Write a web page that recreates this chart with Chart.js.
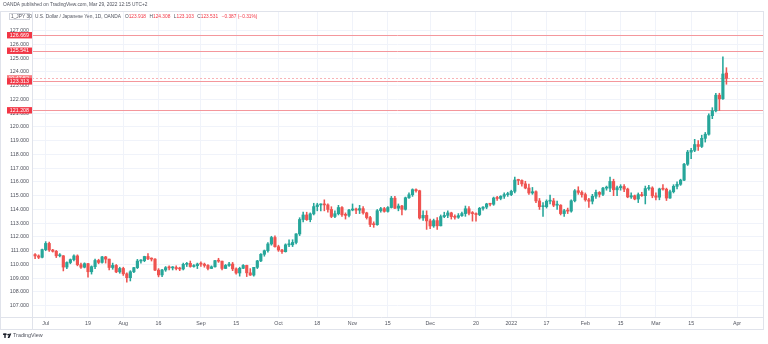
<!DOCTYPE html>
<html>
<head>
<meta charset="utf-8">
<script src="https://cdn.jsdelivr.net/npm/chart.js@4.4.1/dist/chart.umd.min.js"></script>
<style>
  html, body { margin: 0; padding: 0; background: #ffffff; }
  #wrap { width: 768px; height: 344px; position: relative; }
</style>
</head>
<body>
<div id="wrap"><canvas id="c" width="768" height="344"></canvas></div>
<script>
// USD/JPY daily candles (OANDA), late June 2021 – 29 March 2022
const tradingDays = [
  "2021-06-28","2021-06-29","2021-06-30",
  "2021-07-01","2021-07-02","2021-07-05","2021-07-06","2021-07-07","2021-07-08","2021-07-09","2021-07-12","2021-07-13","2021-07-14","2021-07-15","2021-07-16","2021-07-19","2021-07-20","2021-07-21","2021-07-22","2021-07-23","2021-07-26","2021-07-27","2021-07-28","2021-07-29","2021-07-30",
  "2021-08-02","2021-08-03","2021-08-04","2021-08-05","2021-08-06","2021-08-09","2021-08-10","2021-08-11","2021-08-12","2021-08-13","2021-08-16","2021-08-17","2021-08-18","2021-08-19","2021-08-20","2021-08-23","2021-08-24","2021-08-25","2021-08-26","2021-08-27","2021-08-30","2021-08-31",
  "2021-09-01","2021-09-02","2021-09-03","2021-09-06","2021-09-07","2021-09-08","2021-09-09","2021-09-10","2021-09-13","2021-09-14","2021-09-15","2021-09-16","2021-09-17","2021-09-20","2021-09-21","2021-09-22","2021-09-23","2021-09-24","2021-09-27","2021-09-28","2021-09-29","2021-09-30",
  "2021-10-01","2021-10-04","2021-10-05","2021-10-06","2021-10-07","2021-10-08","2021-10-11","2021-10-12","2021-10-13","2021-10-14","2021-10-15","2021-10-18","2021-10-19","2021-10-20","2021-10-21","2021-10-22","2021-10-25","2021-10-26","2021-10-27","2021-10-28","2021-10-29",
  "2021-11-01","2021-11-02","2021-11-03","2021-11-04","2021-11-05","2021-11-08","2021-11-09","2021-11-10","2021-11-11","2021-11-12","2021-11-15","2021-11-16","2021-11-17","2021-11-18","2021-11-19","2021-11-22","2021-11-23","2021-11-24","2021-11-25","2021-11-26","2021-11-29","2021-11-30",
  "2021-12-01","2021-12-02","2021-12-03","2021-12-06","2021-12-07","2021-12-08","2021-12-09","2021-12-10","2021-12-13","2021-12-14","2021-12-15","2021-12-16","2021-12-17","2021-12-20","2021-12-21","2021-12-22","2021-12-23","2021-12-24","2021-12-27","2021-12-28","2021-12-29","2021-12-30","2021-12-31",
  "2022-01-03","2022-01-04","2022-01-05","2022-01-06","2022-01-07","2022-01-10","2022-01-11","2022-01-12","2022-01-13","2022-01-14","2022-01-17","2022-01-18","2022-01-19","2022-01-20","2022-01-21","2022-01-24","2022-01-25","2022-01-26","2022-01-27","2022-01-28","2022-01-31",
  "2022-02-01","2022-02-02","2022-02-03","2022-02-04","2022-02-07","2022-02-08","2022-02-09","2022-02-10","2022-02-11","2022-02-14","2022-02-15","2022-02-16","2022-02-17","2022-02-18","2022-02-21","2022-02-22","2022-02-23","2022-02-24","2022-02-25","2022-02-28",
  "2022-03-01","2022-03-02","2022-03-03","2022-03-04","2022-03-07","2022-03-08","2022-03-09","2022-03-10","2022-03-11","2022-03-14","2022-03-15","2022-03-16","2022-03-17","2022-03-18","2022-03-21","2022-03-22","2022-03-23","2022-03-24","2022-03-25","2022-03-28","2022-03-29"
];
// empty sessions to the right of the last candle
const futureDays = ["2022-03-30","2022-03-31","2022-04-01","2022-04-04","2022-04-05","2022-04-06","2022-04-07","2022-04-08","2022-04-11","2022-04-12"];

const opens = [
  110.72,110.62,110.52,
  111.08,111.53,111.05,110.96,110.63,110.63,109.81,110.14,110.35,110.62,109.98,109.80,110.06,109.47,109.84,110.29,110.15,110.55,110.39,109.78,109.93,109.46,
  109.71,109.32,109.04,109.47,109.77,110.25,110.28,110.58,110.41,110.39,109.59,109.24,109.60,109.77,109.75,109.78,109.70,109.67,110.01,110.08,109.85,109.91,
  110.03,110.02,109.93,109.71,109.83,110.28,110.24,109.71,109.93,110.03,109.68,109.38,109.72,109.93,109.39,109.23,109.79,110.26,110.74,111.00,111.49,111.96,
  111.29,111.05,110.93,111.43,111.43,111.60,112.22,113.27,113.60,113.26,113.68,114.21,114.33,114.35,114.33,114.00,113.49,113.69,114.14,113.61,113.57,
  113.96,114.03,113.95,114.06,113.75,113.41,112.91,112.89,113.91,114.06,113.86,114.14,114.82,114.09,114.25,114.01,114.85,115.07,115.44,115.36,113.38,113.57,
  113.17,112.80,113.19,112.81,113.48,113.57,113.75,113.48,113.43,113.55,113.70,114.05,113.72,113.70,113.63,114.08,114.17,114.40,114.38,114.83,114.80,114.96,115.08,
  115.08,115.32,116.14,116.11,115.86,115.56,115.20,115.29,114.62,114.20,114.20,114.60,114.62,114.31,114.31,113.70,113.91,113.88,114.63,115.36,115.24,
  115.08,114.70,114.60,114.96,115.24,115.10,115.55,115.55,116.04,115.43,115.58,115.67,115.48,114.91,115.00,114.76,115.08,115.00,115.52,115.56,
  114.99,114.89,115.49,115.47,114.83,115.29,115.68,115.83,116.13,117.29,118.17,118.30,118.72,118.58,119.17,119.47,120.82,121.17,122.31,122.05,123.918
];
const highs = [
  110.80,110.70,111.12,
  111.66,111.62,111.10,111.02,110.80,110.65,110.20,110.40,110.70,110.70,110.10,110.12,110.08,109.90,110.40,110.38,110.60,110.59,110.40,110.10,110.00,109.80,
  109.80,109.40,109.55,109.80,110.37,110.35,110.60,110.80,110.48,110.42,109.70,109.65,109.85,109.90,109.85,109.90,109.80,110.10,110.15,110.25,110.00,110.10,
  110.20,110.10,110.00,109.90,110.30,110.45,110.25,110.00,110.15,110.15,109.75,109.80,110.00,109.95,109.70,109.80,110.30,110.80,111.05,111.60,112.05,112.08,
  111.40,111.10,111.50,111.80,111.80,112.25,113.40,113.80,113.80,113.75,114.45,114.45,114.40,114.70,114.40,114.20,113.90,114.30,114.20,113.75,114.00,
  114.40,114.10,114.30,114.20,113.80,113.50,113.10,114.00,114.15,114.15,114.20,114.95,114.95,114.40,114.30,114.90,115.20,115.50,115.50,115.40,113.90,113.90,
  113.30,113.30,113.40,113.60,113.80,113.90,113.80,113.60,113.70,113.80,114.25,114.20,113.85,113.75,114.15,114.20,114.45,114.45,114.90,114.95,115.00,115.20,115.25,
  115.40,116.35,116.20,116.15,116.05,115.85,115.60,115.35,114.80,114.50,114.70,115.05,114.80,114.60,114.35,114.00,114.10,114.70,115.45,115.65,115.35,
  115.20,114.80,115.10,115.40,115.30,115.60,115.70,116.35,116.20,115.70,115.80,115.80,115.55,115.20,115.05,115.20,115.25,115.70,115.75,115.65,
  115.20,115.55,115.80,115.55,115.40,115.80,116.00,116.20,117.35,118.30,118.45,119.10,119.00,119.40,119.60,120.95,121.40,122.45,122.45,125.09,124.308
];
const lows = [
  110.42,110.42,110.48,
  111.00,110.95,110.90,110.50,110.55,109.53,109.70,110.05,110.25,109.90,109.72,109.75,109.07,109.30,109.70,110.05,110.10,110.10,109.60,109.65,109.40,109.36,
  109.20,108.72,108.80,109.40,109.70,110.10,110.20,110.35,110.25,109.55,109.10,109.12,109.50,109.60,109.60,109.60,109.55,109.60,109.85,109.80,109.80,109.70,
  109.85,109.80,109.60,109.70,109.80,110.15,109.60,109.70,109.85,109.55,109.30,109.15,109.70,109.12,109.20,109.15,109.70,110.20,110.60,110.90,111.40,111.25,
  110.95,110.80,110.90,111.30,111.30,111.50,112.10,113.10,113.20,113.10,113.60,113.90,113.90,113.90,113.80,113.40,113.40,113.60,113.50,113.30,113.45,
  113.90,113.70,113.70,113.65,113.30,112.75,112.70,112.85,113.80,113.80,113.80,114.10,114.05,113.90,113.60,113.95,114.80,114.95,115.25,113.30,113.20,112.55,
  112.60,112.70,112.55,112.80,113.40,113.40,113.30,113.30,113.35,113.50,113.50,113.60,113.15,113.15,113.55,113.95,114.05,114.25,114.30,114.65,114.70,114.80,114.95,
  115.00,115.20,115.80,115.70,115.50,115.10,115.10,114.50,114.00,113.50,114.10,114.40,114.20,114.00,113.60,113.50,113.70,113.80,114.55,115.10,114.90,
  114.60,114.15,114.40,114.80,114.90,115.00,115.40,115.30,115.00,115.00,115.40,115.30,114.85,114.80,114.70,114.50,114.95,114.40,115.40,114.85,
  114.70,114.70,115.40,114.65,114.80,115.20,115.50,115.75,116.10,117.20,117.70,118.20,118.30,118.50,118.90,119.40,120.60,121.10,121.20,122.00,123.103
];
const closes = [
  110.62,110.52,111.08,
  111.53,111.05,110.96,110.63,110.63,109.81,110.14,110.35,110.62,109.98,109.80,110.06,109.47,109.84,110.29,110.15,110.55,110.39,109.78,109.93,109.46,109.71,
  109.32,109.04,109.47,109.77,110.25,110.28,110.58,110.41,110.39,109.59,109.24,109.60,109.77,109.75,109.78,109.70,109.67,110.01,110.08,109.85,109.91,110.03,
  110.02,109.93,109.71,109.83,110.28,110.24,109.71,109.93,110.03,109.68,109.38,109.72,109.93,109.39,109.23,109.79,110.26,110.74,111.00,111.49,111.96,111.29,
  111.05,110.93,111.43,111.43,111.60,112.22,113.27,113.60,113.26,113.68,114.21,114.33,114.35,114.33,114.00,113.49,113.69,114.14,113.61,113.57,113.96,
  114.03,113.95,114.06,113.75,113.41,112.91,112.89,113.91,114.06,113.86,114.14,114.82,114.09,114.25,114.01,114.85,115.07,115.44,115.36,113.38,113.57,113.17,
  112.80,113.19,112.81,113.48,113.57,113.75,113.48,113.43,113.55,113.70,114.05,113.72,113.70,113.63,114.08,114.17,114.40,114.38,114.83,114.80,114.96,115.08,115.08,
  115.32,116.14,116.11,115.86,115.56,115.20,115.29,114.62,114.20,114.20,114.60,114.62,114.31,114.31,113.70,113.91,113.88,114.63,115.36,115.24,115.08,
  114.70,114.60,114.96,115.24,115.10,115.55,115.55,116.04,115.43,115.58,115.67,115.48,114.91,115.00,114.76,115.08,115.00,115.52,115.56,114.99,
  114.89,115.49,115.47,114.83,115.29,115.68,115.83,116.13,117.29,118.17,118.30,118.72,118.58,119.17,119.47,120.82,121.17,122.31,122.04,123.85,123.531
];

// time-axis labels
const tickDates = ["2021-07-01","2021-07-19","2021-08-02","2021-08-16","2021-09-01","2021-09-15","2021-10-01","2021-10-18","2021-11-01","2021-11-15","2021-12-01","2021-12-20","2022-01-03","2022-01-17","2022-02-01","2022-02-15","2022-03-01","2022-03-15","2022-04-01"];
const tickLabels = ["Jul","19","Aug","16","Sep","15","Oct","18","Nov","15","Dec","20","2022","17","Feb","15","Mar","15","Apr"];
// price-axis labels
const priceTicks = [107,108,109,110,111,112,113,114,115,116,117,118,119,120,121,122,123,124,125,126,127];

// horizontal levels drawn across the pane
const levels = [126.669, 125.541, 123.313, 121.208];
const lastPrice = 123.531;
const countdown = "10:47:52";

const headerText = "OANDA published on TradingView.com, Mar 29, 2022 12:15 UTC+2";
const symbolText = "U.S. Dollar / Japanese Yen, 1D, OANDA";
const symbolBadge = "1_JPY 30";
const ohlcText = [["O","123.918"],["H","124.308"],["L","123.103"],["C","123.531"]];
const changeText = "\u22120.387 (\u22120.31%)";

const UP = "#26a69a", DOWN = "#ef5350";
const FONT = "'Liberation Sans', Arial, sans-serif";

const allDays = tradingDays.concat(futureDays);
const dayIndex = d => allDays.indexOf(d);
const candleColor = tradingDays.map((d, i) => closes[i] >= opens[i] ? UP : DOWN);
const wickData = tradingDays.map((d, i) => ({ x: i, y: [lows[i], highs[i]] }));
const bodyData = tradingDays.map((d, i) => ({ x: i, y: [opens[i], closes[i]] }));
const tickIndex = tickDates.map(dayIndex);

const fmt = v => v.toFixed(3);

const overlay = {
  id: 'overlay',
  beforeDatasetsDraw(chart) {
    const { ctx, chartArea: a, scales: { y } } = chart;
    ctx.save();
    ctx.lineWidth = 1;
    ctx.strokeStyle = "#f4979c";
    levels.forEach(v => {
      const py = Math.round(y.getPixelForValue(v)) + 0.5;
      ctx.beginPath(); ctx.moveTo(a.left, py); ctx.lineTo(a.right, py); ctx.stroke();
    });
    ctx.setLineDash([2, 2]);
    ctx.strokeStyle = "#f8b4b7";
    const lp = Math.round(y.getPixelForValue(lastPrice)) + 0.5;
    ctx.beginPath(); ctx.moveTo(a.left, lp); ctx.lineTo(a.right, lp); ctx.stroke();
    ctx.restore();
  },
  afterDraw(chart) {
    const { ctx, chartArea: a, scales: { y } } = chart;
    ctx.save();
    // frame
    ctx.strokeStyle = "#e0e3eb";
    ctx.lineWidth = 1;
    ctx.strokeRect(0.5, a.top + 0.5, a.right, 329 - a.top);
    ctx.beginPath(); ctx.moveTo(a.left + 0.5, a.top); ctx.lineTo(a.left + 0.5, 329); ctx.stroke();
    ctx.beginPath(); ctx.moveTo(0, a.bottom + 0.5); ctx.lineTo(a.right, a.bottom + 0.5); ctx.stroke();

    // price badges on the axis
    const badge = (v, text, fill) => {
      const cy = y.getPixelForValue(v);
      ctx.fillStyle = fill;
      ctx.fillRect(7, cy - 3.2, a.left - 7, 6.4);
      ctx.fillStyle = "#ffffff";
      ctx.font = "5.3px " + FONT;
      ctx.textAlign = "right"; ctx.textBaseline = "middle";
      ctx.fillText(text, a.left - 3, cy + 0.3);
    };
    badge(lastPrice, countdown, "#f77c80");
    levels.forEach(v => badge(v, fmt(v), "#f23645"));

    // header
    ctx.textBaseline = "middle"; ctx.textAlign = "left";
    ctx.fillStyle = "#50535e";
    ctx.font = "4.8px " + FONT;
    ctx.fillText(headerText, 3, 5);

    // symbol line
    ctx.strokeStyle = "#d1d4dc";
    ctx.strokeRect(9.5, 13.5, 20, 6);
    ctx.fillStyle = "#50535e";
    ctx.font = "4.8px " + FONT;
    ctx.fillText(symbolBadge, 11, 16.8);
    let x = 35;
    ctx.fillText(symbolText, x, 16.8);
    x += ctx.measureText(symbolText).width + 4;
    ohlcText.forEach(([k, v]) => {
      ctx.fillStyle = "#50535e"; ctx.fillText(k, x, 16.8); x += ctx.measureText(k).width;
      ctx.fillStyle = "#f23645"; ctx.fillText(v, x, 16.8); x += ctx.measureText(v).width + 3.5;
    });
    ctx.fillText(changeText, x, 16.8);

    // footer logo
    ctx.fillStyle = "#131722";
    ctx.fillRect(3, 333.5, 3.6, 1.4);
    ctx.fillRect(4.3, 333.5, 1.4, 4.4);
    ctx.beginPath(); ctx.arc(8.2, 334.6, 0.9, 0, Math.PI * 2); ctx.fill();
    ctx.beginPath(); ctx.moveTo(9.6, 333.5); ctx.lineTo(11.3, 333.5); ctx.lineTo(9.4, 337.9); ctx.lineTo(7.6, 337.9); ctx.closePath(); ctx.fill();
    ctx.fillStyle = "#50535e";
    ctx.font = "5.4px " + FONT;
    ctx.fillText("TradingView", 13, 336);
    ctx.restore();
  }
};

new Chart(document.getElementById('c'), {
  type: 'bar',
  data: {
    datasets: [
      { label: 'body', data: bodyData, backgroundColor: candleColor, borderWidth: 0, barThickness: 2.5, minBarLength: 1, grouped: false },
      { label: 'wick', data: wickData, backgroundColor: candleColor, borderWidth: 0, barThickness: 0.9, grouped: false }
    ]
  },
  options: {
    responsive: false,
    animation: false,
    events: [],
    layout: { padding: { top: 11, right: 5, bottom: 15, left: 0 } },
    plugins: { legend: { display: false }, tooltip: { enabled: false } },
    scales: {
      x: {
        type: 'linear',
        offset: false,
        min: -0.88, max: 206.37,
        afterBuildTicks: s => { s.ticks = tickIndex.map(v => ({ value: v })); },
        afterFit: s => { s.height = 12; },
        grid: { color: "#f0f3fa", drawTicks: false, offset: false },
        border: { display: false },
        ticks: {
          autoSkip: false, maxRotation: 0, padding: 3,
          color: "#50535e", font: { size: 5.3, family: FONT },
          callback: v => tickLabels[tickIndex.indexOf(v)]
        }
      },
      y: {
        position: 'left',
        min: 106.18, max: 128.43,
        afterBuildTicks: s => { s.ticks = priceTicks.map(v => ({ value: v })); },
        afterFit: s => { s.width = 32; },
        grid: { color: "#f0f3fa", drawTicks: false },
        border: { display: false },
        ticks: {
          padding: 3, color: "#50535e", font: { size: 5.3, family: FONT },
          callback: v => fmt(v)
        }
      }
    }
  },
  plugins: [overlay]
});
</script>
</body>
</html>
